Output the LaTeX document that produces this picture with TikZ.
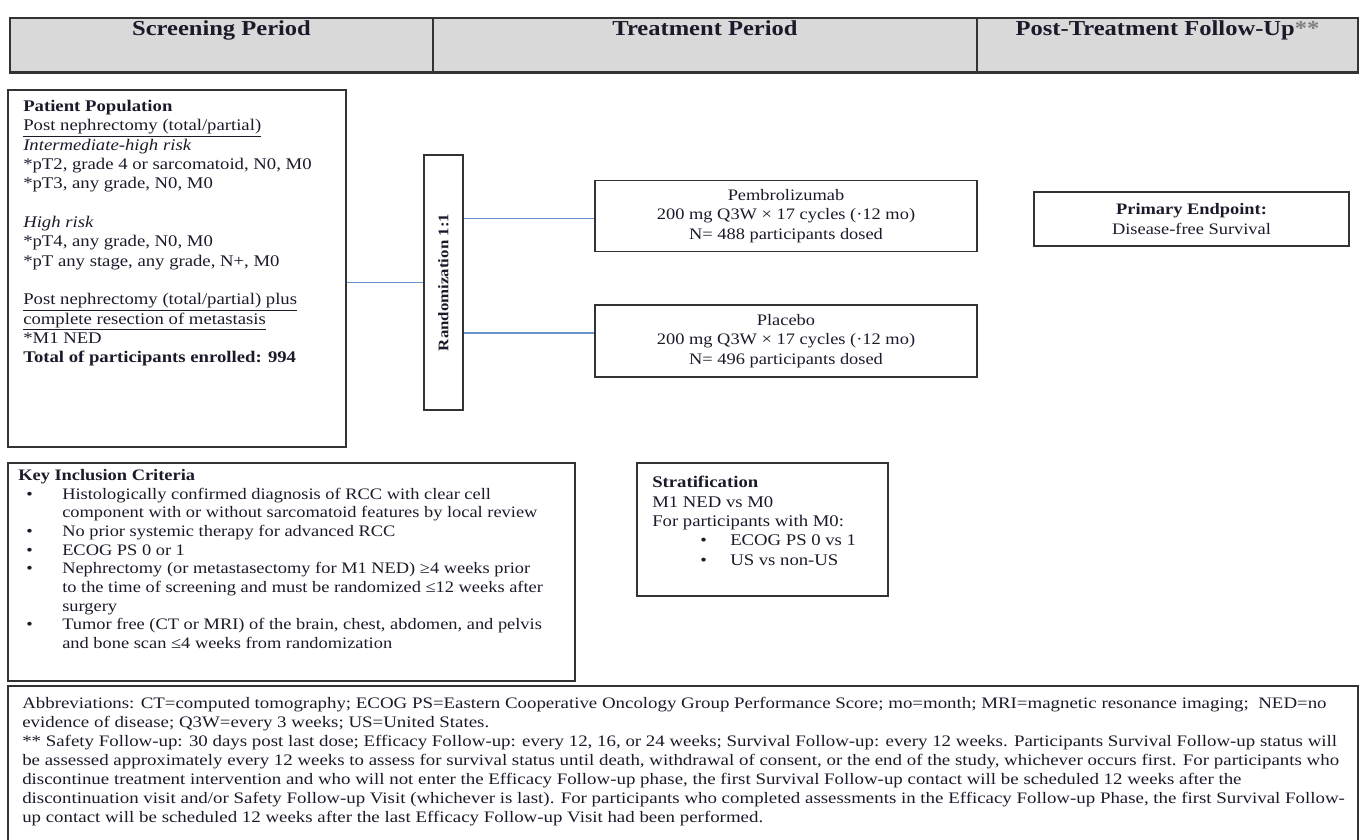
\documentclass[tikz,border=0pt]{standalone}
\usepackage{fontspec}
\setmainfont{Liberation Serif}[FakeStretch=1.15]
\newfontfamily\notefont{Liberation Serif}[FakeStretch=1.18]
\usetikzlibrary{positioning}
\definecolor{hdrgray}{HTML}{D9D9D9}
\definecolor{linkblue}{HTML}{6A93CB}
\definecolor{ink}{HTML}{1A1A2A}
\newcommand{\px}{0.75pt}
\newcommand{\bul}{\hspace*{6pt}\makebox[27pt][l]{\textbullet}}
\newcommand{\bulpad}{\hspace*{33pt}}
\tikzset{
  panel/.style 2 args={draw=black!80, line width=1.1pt, minimum width=#1*\px,
                       minimum height=#2*\px, inner sep=0pt},
  body/.style={inner sep=0pt, align=left, anchor=north west, text=ink,
               font=\fontsize{12.2}{14.5}\selectfont},
  armtxt/.style={inner sep=0pt, align=center, text=ink,
                 font=\fontsize{12}{14.5}\selectfont},
  head/.style={inner sep=0pt, anchor=base, text=ink, font=\fontsize{16}{18}\selectfont\bfseries},
  link/.style={draw=linkblue, line width=0.9pt}
}

\begin{document}
\begin{tikzpicture}[x=0.75pt, y=-0.75pt]
  \useasboundingbox (0,0) rectangle (1366,839);
  % period header
  \node[panel={423}{54}, fill=hdrgray] (hscreen) at (221.5,45) {};
  \node[panel={544}{54}, fill=hdrgray] (htreat) at (705,45) {};
  \node[panel={381}{54}, fill=hdrgray] (hfollow) at (1167.5,45) {};
  \draw[black!80, line width=1.8pt] (hscreen.south west) -- (hfollow.south east);
  \node[head] (tscreen) at (221.5,35) {Screening Period};
  \node[head] (ttreat) at (705,35) {Treatment Period};
  \node[head] (tfollow) at (1167.5,35) {Post-Treatment Follow-Up\textcolor{black!50}{**}};

  % screening
  \node[panel={338}{357}] (pop) at (177,268.5) {};
  \node[body] (poptxt) at (23,100) {%
    \textbf{Patient Population}\\
    \underline{Post nephrectomy (total/partial)}\\
    \textit{Intermediate-high risk}\\
    *pT2, grade 4 or sarcomatoid, N0, M0\\
    *pT3, any grade, N0, M0\\[14.5pt]
    \textit{High risk}\\
    *pT4, any grade, N0, M0\\
    *pT any stage, any grade, N+, M0\\[14.5pt]
    \underline{Post nephrectomy (total/partial) plus}\\
    \underline{complete resection of metastasis}\\
    *M1 NED\\
    \textbf{Total of participants enrolled: 994}};

  \node[panel={39}{255}] (rand) at (443.5,282.5) {};
  \node[rotate=90, inner sep=0pt, text=ink, font=\fontsize{11}{13}\selectfont\bfseries]
    (randtxt) at (rand) {Randomization 1:1};

  % treatment arms
  \node[panel={382}{71}] (pembro) at (786,216) {};
  \node[armtxt] (pembrotxt) at (pembro) {Pembrolizumab\\
    200 mg Q3W × 17 cycles (·12 mo)\\N= 488 participants dosed};
  \node[panel={382}{72}] (placebo) at (786,341) {};
  \node[armtxt] (placebotxt) at (placebo) {Placebo\\
    200 mg Q3W × 17 cycles (·12 mo)\\N= 496 participants dosed};

  \node[panel={315}{54}] (endpt) at (1191.5,219) {};
  \node[armtxt] (endpttxt) at (endpt) {\textbf{Primary Endpoint:}\\Disease-free Survival};

  \draw[link] (pop.east |- rand) -- (rand.west);
  \draw[link] ([yshift=-2pt]rand.east |- pembro.west) -- ([yshift=-2pt]pembro.west);
  \draw[link] ([yshift=6pt]rand.east |- placebo.west) -- ([yshift=6pt]placebo.west);

  % criteria and stratification
  \node[panel={567}{218}] (incl) at (291.5,572) {};
  \node[body, font=\fontsize{12}{14}\selectfont] (incltxt) at (18,469) {%
    \textbf{Key Inclusion Criteria}\\
    \bul Histologically confirmed diagnosis of RCC with clear cell\\
    \bulpad component with or without sarcomatoid features by local review\\
    \bul No prior systemic therapy for advanced RCC\\
    \bul ECOG PS 0 or 1\\
    \bul Nephrectomy (or metastasectomy for M1 NED) ≥4 weeks prior\\
    \bulpad to the time of screening and must be randomized ≤12 weeks after\\
    \bulpad surgery\\
    \bul Tumor free (CT or MRI) of the brain, chest, abdomen, and pelvis\\
    \bulpad and bone scan ≤4 weeks from randomization};

  \node[panel={251}{133}] (strat) at (762.5,529.5) {};
  \node[body] (strattxt) at (652,476) {%
    \textbf{Stratification}\\
    M1 NED vs M0\\
    For participants with M0:\\
    \hspace*{36pt}\makebox[22.5pt][l]{\textbullet}ECOG PS 0 vs 1\\
    \hspace*{36pt}\makebox[22.5pt][l]{\textbullet}US vs non-US};

  % footnote
  \node[panel={1350}{156}] (notes) at (683,764) {};
  \node[body, font=\notefont\fontsize{12}{14.25}\selectfont] (notestxt) at (22,697) {%
    Abbreviations: CT=computed tomography; ECOG PS=Eastern Cooperative Oncology Group Performance Score; mo=month; MRI=magnetic resonance imaging;\ \ NED=no\\
    evidence of disease; Q3W=every 3 weeks; US=United States.\\
    ** Safety Follow-up: 30 days post last dose; Efficacy Follow-up: every 12, 16, or 24 weeks; Survival Follow-up: every 12 weeks. Participants Survival Follow-up status will\\
    be assessed approximately every 12 weeks to assess for survival status until death, withdrawal of consent, or the end of the study, whichever occurs first. For participants who\\
    discontinue treatment intervention and who will not enter the Efficacy Follow-up phase, the first Survival Follow-up contact will be scheduled 12 weeks after the\\
    discontinuation visit and/or Safety Follow-up Visit (whichever is last). For participants who completed assessments in the Efficacy Follow-up Phase, the first Survival Follow-\\
    up contact will be scheduled 12 weeks after the last Efficacy Follow-up Visit had been performed.};
\end{tikzpicture}
\end{document}
